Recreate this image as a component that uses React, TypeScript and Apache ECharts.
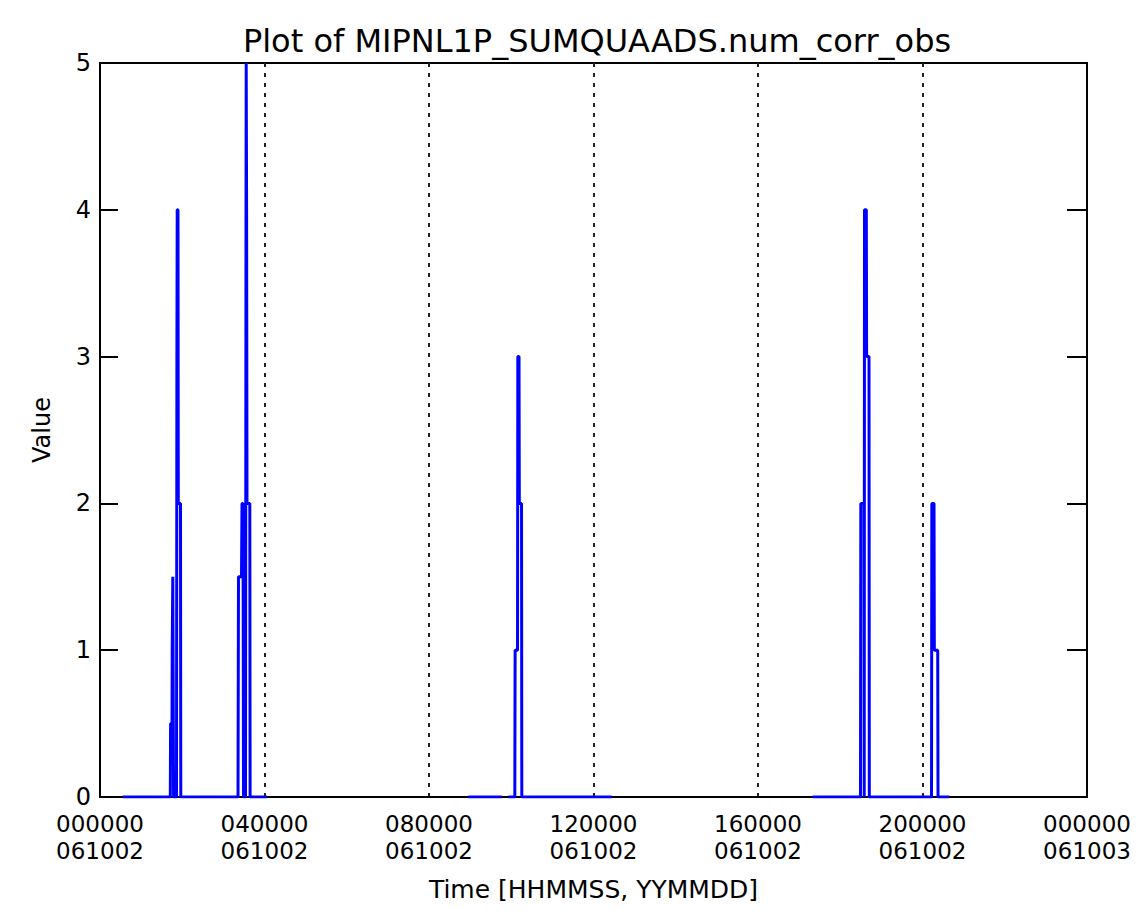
import { useEffect, useRef } from "react";
import * as echarts from "echarts";

const TITLE = "Plot of MIPNL1P_SUMQUAADS.num_corr_obs";
const X_NAME = "Time [HHMMSS, YYMMDD]";
const Y_NAME = "Value";

// seconds since 000000 on 061002; "-" marks a data gap
const TIME_SECONDS = [
  1987, 6154, 6180, 6303, 6320, 6373, 6418, 6440, 6697, 6732, 6758, 6828, 6854, 7047, 7073,
  12081, 12124, 12387, 12431, 12518, 12562, 12737, 12781, 12799, 12834, 12869, 13114, 13140, 14593,
  14600,
  32241, 35165,
  35300,
  35743, 36312, 36339, 36549, 36575, 36680, 36706, 36899, 36925, 44794,
  50000,
  62390, 66574, 66600, 66880, 66898, 66924, 67082, 67108, 67318, 67344,
  72790, 72816, 73008, 73035, 73332, 73359, 74348,
];
const VALUES: (number | string)[] = [
  0, 0, 0.5, 0.5, 1, 1.5, 1.5, 0, 0, 3, 4, 4, 2, 2, 0,
  0, 1.5, 1.5, 2, 2, 0, 0, 4, 5, 4, 2, 2, 0, 0,
  "-",
  0, 0,
  "-",
  0, 0, 1, 1, 3, 3, 2, 2, 0, 0,
  "-",
  0, 0, 2, 2, 0, 4, 4, 3, 3, 0,
  0, 2, 2, 1, 1, 0, 0,
];

const X_TICK_TIMES = ["000000", "040000", "080000", "120000", "160000", "200000", "000000"];
const X_TICK_DATES = ["061002", "061002", "061002", "061002", "061002", "061002", "061003"];
const X_STEP = 14400;
const X_MAX = 86400;
const Y_MIN = 0;
const Y_MAX = 5;

const FONT = "DejaVu Sans";

export default function App() {
  const ref = useRef<HTMLDivElement>(null);
  useEffect(() => {
    document.body.style.margin = "0";
    if (!ref.current) return;
    const chart = echarts.init(ref.current, null, { renderer: "svg" });
    const data = TIME_SECONDS.map((t, i) => [t, VALUES[i]]);
    chart.setOption({
      animation: false,
      backgroundColor: "#ffffff",
      title: {
        text: TITLE,
        left: 592,
        top: 20,
        textAlign: "center",
        textStyle: { fontFamily: FONT, fontSize: 32, fontWeight: "normal", color: "#000" },
      },
      grid: {
        left: 100,
        right: 57,
        top: 63,
        bottom: 125,
        show: true,
        borderColor: "#000",
        borderWidth: 2,
        backgroundColor: "transparent",
      },
      xAxis: {
        type: "value",
        min: 0,
        max: X_MAX,
        interval: X_STEP,
        name: X_NAME,
        nameLocation: "middle",
        nameGap: 80,
        nameTextStyle: { fontFamily: FONT, fontSize: 25, color: "#000" },
        axisLine: { show: true, lineStyle: { color: "#000", width: 2 } },
        axisTick: { show: false },
        axisLabel: {
          fontFamily: FONT,
          fontSize: 23,
          lineHeight: 27,
          color: "#000",
          margin: 13,
          formatter: (v: number) => {
            const i = Math.round(v / X_STEP);
            return `${X_TICK_TIMES[i]}\n${X_TICK_DATES[i]}`;
          },
        },
        splitLine: {
          show: true,
          lineStyle: { color: "#222", width: 2, type: [4, 6] },
        },
      },
      yAxis: [
        {
          type: "value",
          min: Y_MIN,
          max: Y_MAX,
          interval: 1,
          name: Y_NAME,
          nameLocation: "middle",
          nameGap: 46,
          nameRotate: 90,
          nameTextStyle: { fontFamily: FONT, fontSize: 24, color: "#000" },
          axisLine: { show: true, lineStyle: { color: "#000", width: 2 } },
          axisTick: { show: true, inside: true, length: 18, lineStyle: { color: "#000", width: 2 } },
          axisLabel: { fontFamily: FONT, fontSize: 24, color: "#000", margin: 9 },
          splitLine: { show: false },
        },
        {
          type: "value",
          min: Y_MIN,
          max: Y_MAX,
          interval: 1,
          position: "right",
          axisLine: { show: true, lineStyle: { color: "#000", width: 2 } },
          axisTick: { show: true, inside: true, length: 20, lineStyle: { color: "#000", width: 2 } },
          axisLabel: { show: false },
          splitLine: { show: false },
        },
      ],
      series: [
        {
          type: "line",
          data,
          showSymbol: false,
          symbol: "none",
          connectNulls: false,
          lineStyle: { color: "#0000ff", width: 3 },
          z: 5,
        },
      ],
    });
    return () => chart.dispose();
  }, []);
  return <div ref={ref} style={{ width: 1144, height: 922 }} />;
}
